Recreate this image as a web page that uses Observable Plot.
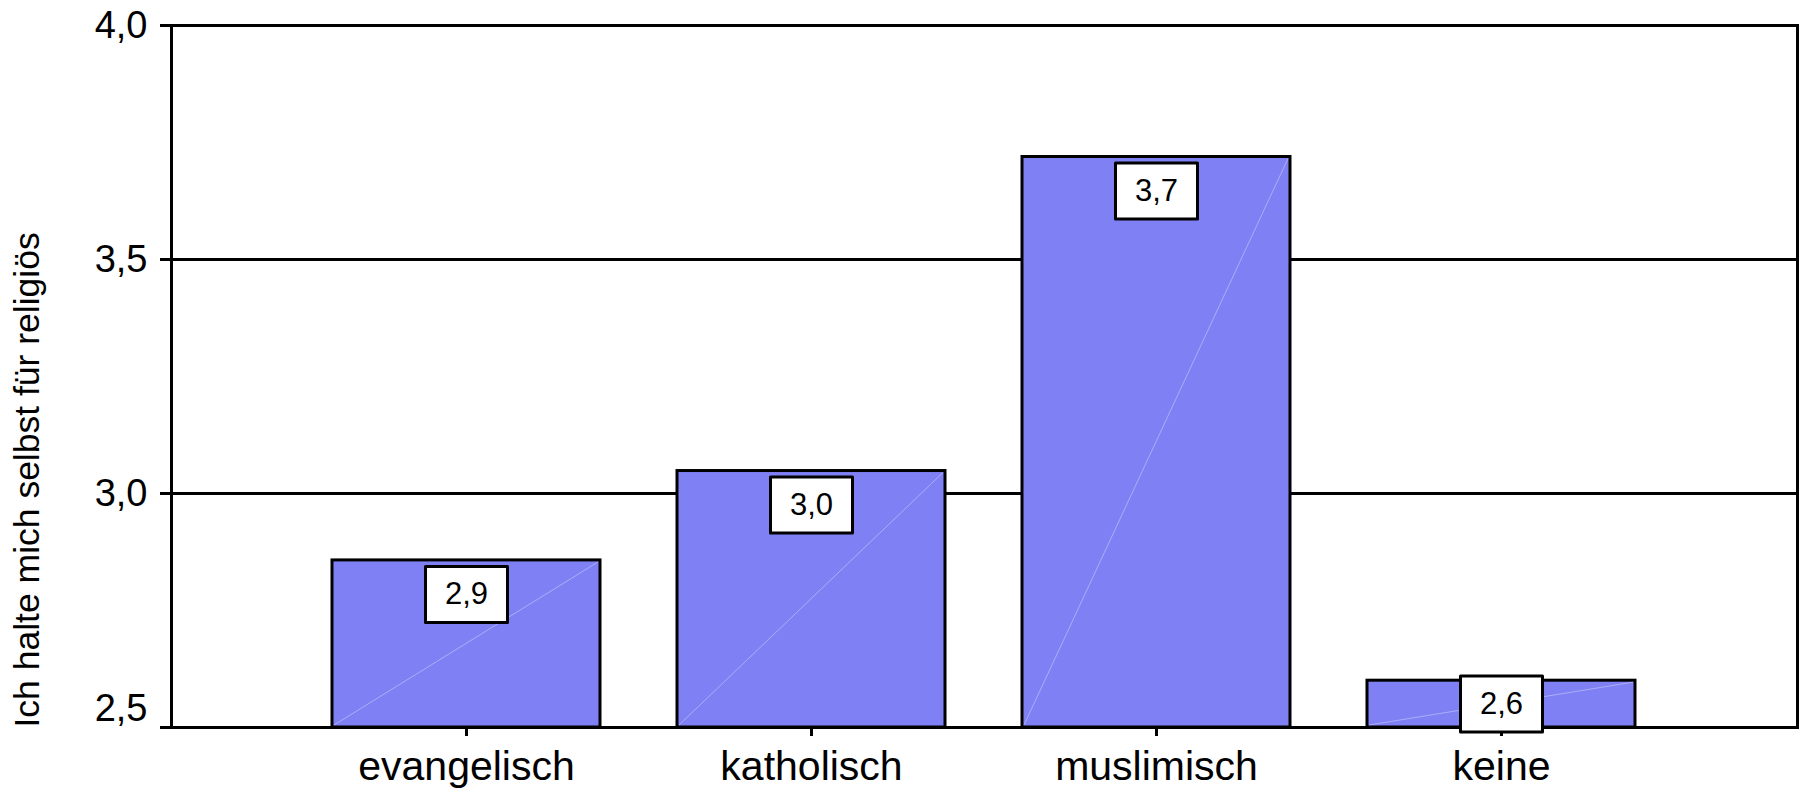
<!DOCTYPE html>
<html><head><meta charset="utf-8">
<script src="https://cdn.jsdelivr.net/npm/d3@7"></script>
<script src="https://cdn.jsdelivr.net/npm/@observablehq/plot@0.6"></script>
<style>html,body{margin:0;padding:0;background:#fff}</style>
</head><body><div id="chart"></div>
<script>
const categories = ["evangelisch", "katholisch", "muslimisch", "keine"];
const values = [2.857, 3.048, 3.719, 2.600];
const valueLabels = ["2,9", "3,0", "3,7", "2,6"];
const yDomain = [2.5, 4.0];
const yTicks = [2.5, 3.0, 3.5, 4.0];
const yTickLabels = ["2,5", "3,0", "3,5", "4,0"];
const gridValues = [3.0, 3.5, 4.0];
const yTitle = "Ich halte mich selbst für religiös";

const data = categories.map((c, i) => ({category: c, value: values[i], label: valueLabels[i]}));
const fmt = d => yTickLabels[yTicks.indexOf(d)];
const tall = d => d.value - yDomain[0] >= 0.13;
const short = d => !tall(d);

const boxSymbol = {draw(ctx) {
  const w = 41, h = 28;
  ctx.moveTo(-w, -h); ctx.lineTo(w, -h); ctx.lineTo(w, h); ctx.lineTo(-w, h); ctx.closePath();
}};

function diagonals(index, scales, vals, dims, context, next) {
  const g = next(index, scales, vals, dims, context);
  g.querySelectorAll("rect").forEach(r => {
    const x = +r.getAttribute("x"), y = +r.getAttribute("y");
    const w = +r.getAttribute("width"), h = +r.getAttribute("height");
    const l = document.createElementNS("http://www.w3.org/2000/svg", "line");
    l.setAttribute("x1", x + 2); l.setAttribute("y1", y + h - 2);
    l.setAttribute("x2", x + w - 2); l.setAttribute("y2", y + 2);
    l.setAttribute("stroke", "rgba(255,255,255,0.35)");
    l.setAttribute("stroke-width", 1);
    r.parentNode.appendChild(l);
  });
  return g;
}

const chart = Plot.plot({
  width: 1804,
  height: 789,
  marginLeft: 171,
  marginRight: 7,
  marginTop: 25,
  marginBottom: 62,
  style: {fontFamily: "'Liberation Sans', Arial, sans-serif", background: "white", color: "black"},
  x: {domain: categories, paddingInner: 0.223, paddingOuter: 0.468},
  y: {domain: yDomain},
  marks: [
    Plot.ruleY(gridValues, {stroke: "black", strokeWidth: 3}),
    Plot.barY(data, {x: "category", y1: () => yDomain[0], y2: "value", fill: "#8080f5", stroke: "black", strokeWidth: 3, render: diagonals}),
    Plot.frame({stroke: "black", strokeWidth: 3}),
    Plot.axisY(yTicks, {tickFormat: d => d === yTicks[0] ? "" : fmt(d), tickSize: 11, tickPadding: 13, strokeWidth: 3, fontSize: 38, label: null}),
    Plot.axisY([yTicks[0]], {tickFormat: fmt, tickSize: 0, tickPadding: 24, dy: -19, fontSize: 38, label: null}),
    Plot.axisX({tickSize: 9, tickPadding: 14, strokeWidth: 3, fontSize: 41, label: null}),
    Plot.dot(data, {filter: tall, x: "category", y: "value", dy: 34, symbol: boxSymbol, r: 10, fill: "white", stroke: "black", strokeWidth: 3, strokeLinejoin: "round"}),
    Plot.text(data, {filter: tall, x: "category", y: "value", dy: 34, text: "label", fontSize: 31, lineAnchor: "middle"}),
    Plot.dot(data, {filter: short, x: "category", frameAnchor: "bottom", dy: -23.5, symbol: boxSymbol, r: 10, fill: "white", stroke: "black", strokeWidth: 3, strokeLinejoin: "round"}),
    Plot.text(data, {filter: short, x: "category", frameAnchor: "bottom", dy: -23.5, text: "label", fontSize: 31, lineAnchor: "middle"}),
    Plot.text([yTitle], {frameAnchor: "bottom-left", text: d => d, rotate: -90, textAnchor: "start", lineAnchor: "middle", dx: -144, fontSize: 35.5})
  ]
});
document.getElementById("chart").appendChild(chart);
</script>
</body></html>
